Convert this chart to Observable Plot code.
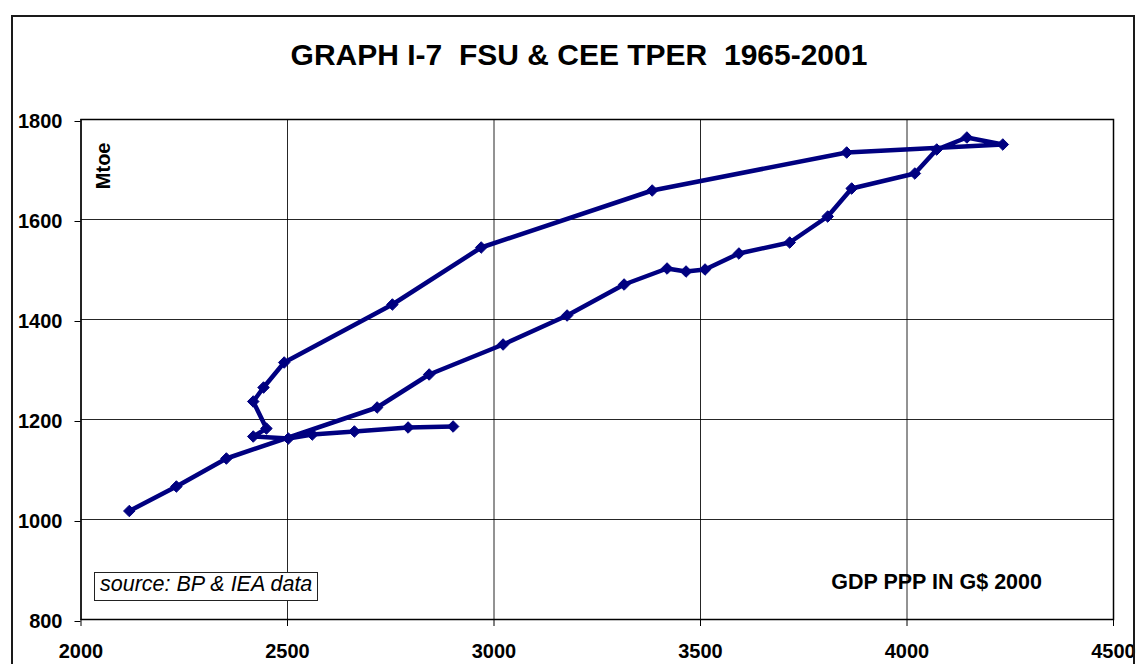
<!DOCTYPE html>
<html>
<head>
<meta charset="utf-8">
<script src="https://cdn.jsdelivr.net/npm/d3@7"></script>
<script src="https://cdn.jsdelivr.net/npm/@observablehq/plot@0.6"></script>
<style>
  html, body { margin: 0; padding: 0; background: #fff; }
  #wrap { position: relative; width: 1136px; height: 664px; overflow: hidden; background: #fff;
          font-family: Arial, "Liberation Sans", Helvetica, sans-serif; }
  #chart { position: absolute; left: 0; top: 0; }
  #border { position: absolute; left: 11px; top: 15px; width: 1124px; height: 720px;
            box-sizing: border-box; border: 2px solid #1a1a1a; pointer-events: none; }
  #title { position: absolute; left: 79px; width: 1000px; top: 40px; text-align: center;
           font-size: 30px; line-height: 30px; font-weight: bold; white-space: pre; color: #000; }
  #source { position: absolute; left: 94px; top: 572px; width: 224px; box-sizing: border-box;
            border: 1px solid #222; background: #fff; font-size: 21.5px; line-height: 23px;
            font-style: italic; padding: 0 0 4px 5px; white-space: nowrap; color: #000; }
  #xlabel { position: absolute; right: 94px; top: 572px; font-size: 21.5px; line-height: 21.5px;
            font-weight: bold; white-space: pre; color: #000; }
</style>
</head>
<body>
<div id="wrap">
  <div id="chart"></div>
  <div id="border"></div>
  <div id="title"></div>
  <div id="source"></div>
  <div id="xlabel"></div>
</div>
<script>
// Texts
const titleText = "GRAPH I-7  FSU & CEE TPER  1965-2001";
const yUnitText = "Mtoe";
const xAxisText = "GDP PPP IN G$ 2000";
const sourceText = "source: BP & IEA data";

// Tick values
const xTicks = [2000, 2500, 3000, 3500, 4000, 4500];
const yTicks = [800, 1000, 1200, 1400, 1600, 1800];

// Path of the series, in drawing order (GDP PPP, G$ 2000 ; TPER, Mtoe)
const gdp  = [2117, 2231, 2352, 2717, 2843, 3022, 3177, 3315, 3419, 3465, 3511, 3593, 3716, 3808, 3866, 4019, 4072, 4145, 4232,
              3854, 3383, 2969, 2754, 2492, 2442, 2417, 2449, 2417, 2502, 2560, 2662, 2792, 2901];
const tper = [1017, 1066, 1122, 1224, 1290, 1350, 1408, 1470, 1502, 1496, 1500, 1532, 1554, 1606, 1662, 1692, 1740, 1764, 1750,
              1734, 1658, 1544, 1430, 1314, 1264, 1236, 1182, 1166, 1162, 1170, 1176, 1184, 1186];

const data = gdp.map((g, i) => ({gdp: g, tper: tper[i]}));

document.getElementById("title").textContent = titleText;
document.getElementById("source").textContent = sourceText;
document.getElementById("xlabel").textContent = xAxisText;

const navy = "#000080";

const chart = Plot.plot({
  width: 1136,
  height: 664,
  marginLeft: 80.5,
  marginRight: 23,
  marginTop: 119,
  marginBottom: 45,
  style: {
    fontFamily: 'Arial, "Liberation Sans", Helvetica, sans-serif',
    fontSize: "20px",
    fontWeight: "bold",
    background: "transparent",
    color: "#000",
    overflow: "visible"
  },
  x: {domain: [2000, 4500], label: null},
  y: {domain: [800, 1800], label: null},
  marks: [
    Plot.gridX(xTicks, {stroke: "#000", strokeOpacity: 0.85, strokeWidth: 1}),
    Plot.gridY(yTicks, {stroke: "#000", strokeOpacity: 0.85, strokeWidth: 1}),
    Plot.frame({stroke: "#000", strokeWidth: 1.5}),
    Plot.axisX({ticks: xTicks, tickSize: 7, tickPadding: 17, tickFormat: d => String(d), label: null, stroke: "#000", fill: "#000"}),
    Plot.axisY({ticks: yTicks, tickSize: 6, tickPadding: 12.5, tickFormat: d => String(d), label: null, dy: 2, stroke: "#000", fill: "#000"}),
    Plot.line(data, {x: "gdp", y: "tper", stroke: navy, strokeWidth: 4.5, strokeLinejoin: "round"}),
    Plot.dot(data, {x: "gdp", y: "tper", symbol: "diamond2", r: 5.2, fill: navy, stroke: navy, strokeWidth: 1}),
    Plot.text([yUnitText], {frameAnchor: "top-left", rotate: -90, textAnchor: "end", dx: 14.5, dy: 23,
                            fontSize: 20, fontWeight: "bold", fill: "#000"})
  ]
});
document.getElementById("chart").appendChild(chart);
</script>
</body>
</html>
